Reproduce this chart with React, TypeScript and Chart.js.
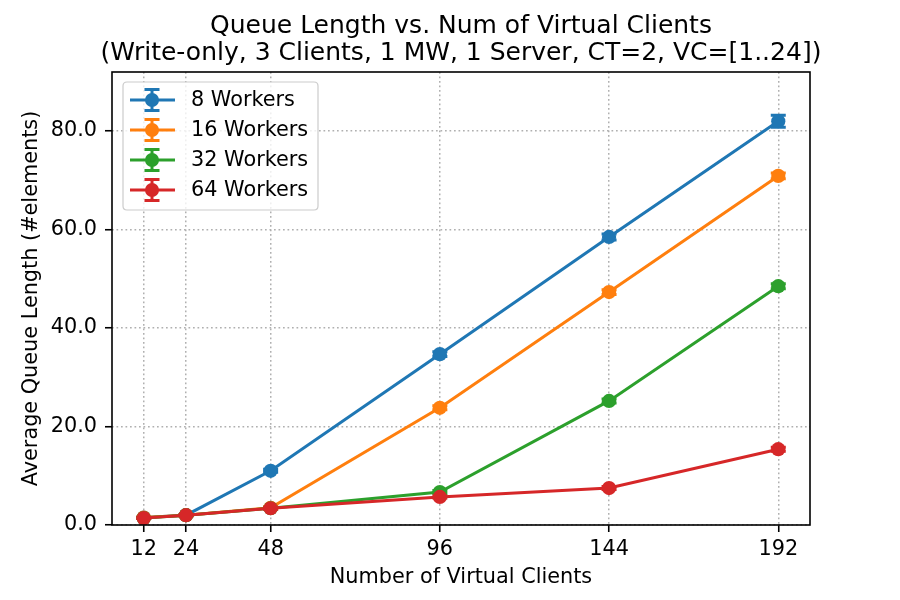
import React, { useEffect, useRef } from "react";
import { Chart, registerables } from "chart.js";

Chart.register(...registerables);

const titleLines = [
  "Queue Length vs. Num of Virtual Clients",
  "(Write-only, 3 Clients, 1 MW, 1 Server, CT=2, VC=[1..24])",
];
const xAxisTitle = "Number of Virtual Clients";
const yAxisTitle = "Average Queue Length (#elements)";

const virtualClients = [12, 24, 48, 96, 144, 192];
const yTickValues = [0, 20, 40, 60, 80];

const seriesLabels = ["8 Workers", "16 Workers", "32 Workers", "64 Workers"];
const seriesColors = ["#1f77b4", "#ff7f0e", "#2ca02c", "#d62728"];

const workers8 = [1.5, 2.0, 11.0, 34.7, 58.5, 82.0];
const workers16 = [1.5, 2.0, 3.5, 23.8, 47.3, 70.9];
const workers32 = [1.4, 2.0, 3.4, 6.7, 25.2, 48.5];
const workers64 = [1.4, 2.0, 3.4, 5.7, 7.5, 15.4];

const errors8 = [0.1, 0.1, 0.3, 0.5, 0.6, 1.2];
const errors16 = [0.1, 0.1, 0.2, 0.4, 0.5, 0.6];
const errors32 = [0.1, 0.1, 0.2, 0.3, 0.4, 0.5];
const errors64 = [0.1, 0.1, 0.2, 0.2, 0.3, 0.4];

const seriesValues = [workers8, workers16, workers32, workers64];
const seriesErrors = [errors8, errors16, errors32, errors64];

const FONT = '"DejaVu Sans", sans-serif';

export default function App() {
  const canvasRef = useRef<HTMLCanvasElement | null>(null);

  useEffect(() => {
    const canvas = canvasRef.current;
    if (!canvas) return;

    const titlePlugin = {
      id: "mplTitle",
      afterDraw(chart: any) {
        const ctx = chart.ctx;
        const { left, right } = chart.chartArea;
        ctx.save();
        ctx.fillStyle = "#000";
        ctx.font = `25px ${FONT}`;
        ctx.textAlign = "center";
        ctx.textBaseline = "alphabetic";
        const cx = (left + right) / 2;
        ctx.fillText(titleLines[0], cx, 33);
        ctx.fillText(titleLines[1], cx, 60);
        ctx.restore();
      },
    };

    const errorBarPlugin = {
      id: "errorBars",
      beforeDatasetDraw(chart: any, args: any) {
        const i = args.index;
        const errs = seriesErrors[i];
        const vals = seriesValues[i];
        if (!errs) return;
        const xs = chart.scales.x;
        const ys = chart.scales.y;
        const ctx = chart.ctx;
        ctx.save();
        ctx.strokeStyle = seriesColors[i];
        ctx.lineWidth = 3;
        for (let k = 0; k < vals.length; k++) {
          const px = xs.getPixelForValue(virtualClients[k]);
          const y1 = ys.getPixelForValue(vals[k] + errs[k]);
          const y2 = ys.getPixelForValue(vals[k] - errs[k]);
          ctx.beginPath();
          ctx.moveTo(px, y1);
          ctx.lineTo(px, y2);
          ctx.moveTo(px - 7.5, y1);
          ctx.lineTo(px + 7.5, y1);
          ctx.moveTo(px - 7.5, y2);
          ctx.lineTo(px + 7.5, y2);
          ctx.stroke();
        }
        ctx.restore();
      },
    };

    const framePlugin = {
      id: "frameAndLegend",
      afterDatasetsDraw(chart: any) {
        const ctx = chart.ctx;
        const { left, right, top, bottom } = chart.chartArea;
        ctx.save();
        ctx.strokeStyle = "#000";
        ctx.lineWidth = 1.6;
        ctx.strokeRect(left, top, right - left, bottom - top);

        // legend
        const bx = left + 11;
        const by = top + 10;
        const bw = 195;
        const bh = 128;
        const r = 4;
        ctx.beginPath();
        ctx.moveTo(bx + r, by);
        ctx.lineTo(bx + bw - r, by);
        ctx.quadraticCurveTo(bx + bw, by, bx + bw, by + r);
        ctx.lineTo(bx + bw, by + bh - r);
        ctx.quadraticCurveTo(bx + bw, by + bh, bx + bw - r, by + bh);
        ctx.lineTo(bx + r, by + bh);
        ctx.quadraticCurveTo(bx, by + bh, bx, by + bh - r);
        ctx.lineTo(bx, by + r);
        ctx.quadraticCurveTo(bx, by, bx + r, by);
        ctx.closePath();
        ctx.fillStyle = "rgba(255,255,255,0.8)";
        ctx.fill();
        ctx.strokeStyle = "#cccccc";
        ctx.lineWidth = 1.2;
        ctx.stroke();

        ctx.font = `20.8px ${FONT}`;
        ctx.textAlign = "left";
        ctx.textBaseline = "middle";
        for (let i = 0; i < seriesLabels.length; i++) {
          const cy = by + 18 + i * 30;
          const mx = bx + 29;
          ctx.strokeStyle = seriesColors[i];
          ctx.lineWidth = 3;
          ctx.beginPath();
          ctx.moveTo(bx + 7, cy);
          ctx.lineTo(bx + 52, cy);
          ctx.moveTo(mx, cy - 10.5);
          ctx.lineTo(mx, cy + 10.5);
          ctx.moveTo(mx - 7.5, cy - 10.5);
          ctx.lineTo(mx + 7.5, cy - 10.5);
          ctx.moveTo(mx - 7.5, cy + 10.5);
          ctx.lineTo(mx + 7.5, cy + 10.5);
          ctx.stroke();
          ctx.fillStyle = seriesColors[i];
          ctx.beginPath();
          ctx.arc(mx, cy, 7, 0, Math.PI * 2);
          ctx.fill();
          ctx.fillStyle = "#000";
          ctx.fillText(seriesLabels[i], bx + 68, cy + 1);
        }
        ctx.restore();
      },
    };

    const datasets = seriesLabels.map((label, i) => ({
      label,
      data: virtualClients.map((x, k) => ({ x, y: seriesValues[i][k] })),
      borderColor: seriesColors[i],
      backgroundColor: seriesColors[i],
      borderWidth: 3,
      pointRadius: 7.1,
      pointHoverRadius: 7.1,
      pointBorderWidth: 0,
      pointBackgroundColor: seriesColors[i],
      tension: 0,
      fill: false,
      order: seriesLabels.length - i,
    }));

    const gridCommon = {
      display: true,
      drawOnChartArea: true,
      drawTicks: true,
      color: "#b0b0b0",
      lineWidth: 1.5,
      tickLength: 7,
      tickColor: "#000",
      tickWidth: 1.6,
      tickBorderDash: [],
    };

    const borderCommon = {
      display: false,
      dash: [1.7, 2.8],
    };

    const chart = new Chart(canvas, {
      type: "line",
      data: { datasets },
      plugins: [titlePlugin, errorBarPlugin, framePlugin],
      options: {
        animation: false,
        responsive: false,
        devicePixelRatio: 1,
        events: [],
        layout: { padding: { top: 72, right: 90, bottom: 0, left: 0 } },
        plugins: {
          legend: { display: false },
          title: { display: false },
          tooltip: { enabled: false },
        },
        scales: {
          x: {
            type: "linear",
            min: 3,
            max: 201,
            border: borderCommon as any,
            grid: gridCommon as any,
            afterBuildTicks: (s: any) => {
              s.ticks = virtualClients.map((v) => ({ value: v }));
            },
            afterFit: (s: any) => {
              s.height = 75;
            },
            ticks: {
              color: "#000",
              font: { family: FONT, size: 20.8 },
              padding: 5,
              maxRotation: 0,
              autoSkip: false,
              callback: (v: any) => String(v),
            },
            title: {
              display: true,
              text: xAxisTitle,
              color: "#000",
              font: { family: FONT, size: 20.8 },
              padding: { top: 0, bottom: 10 },
            },
          },
          y: {
            type: "linear",
            min: 0,
            max: 92,
            border: borderCommon as any,
            grid: gridCommon as any,
            afterBuildTicks: (s: any) => {
              s.ticks = yTickValues.map((v) => ({ value: v }));
            },
            afterFit: (s: any) => {
              s.width = 112;
            },
            ticks: {
              color: "#000",
              font: { family: FONT, size: 20.8 },
              padding: 8,
              autoSkip: false,
              callback: (v: any) => Number(v).toFixed(1),
            },
            title: {
              display: true,
              text: yAxisTitle,
              color: "#000",
              font: { family: FONT, size: 20.8 },
              padding: { top: 19, bottom: 0 },
            },
          },
        },
      },
    });

    return () => {
      chart.destroy();
    };
  }, []);

  return (
    <div style={{ position: "absolute", left: 0, top: 0, width: 900, height: 600, background: "#fff" }}>
      <canvas ref={canvasRef} width={900} height={600} style={{ width: 900, height: 600, display: "block" }} />
    </div>
  );
}
